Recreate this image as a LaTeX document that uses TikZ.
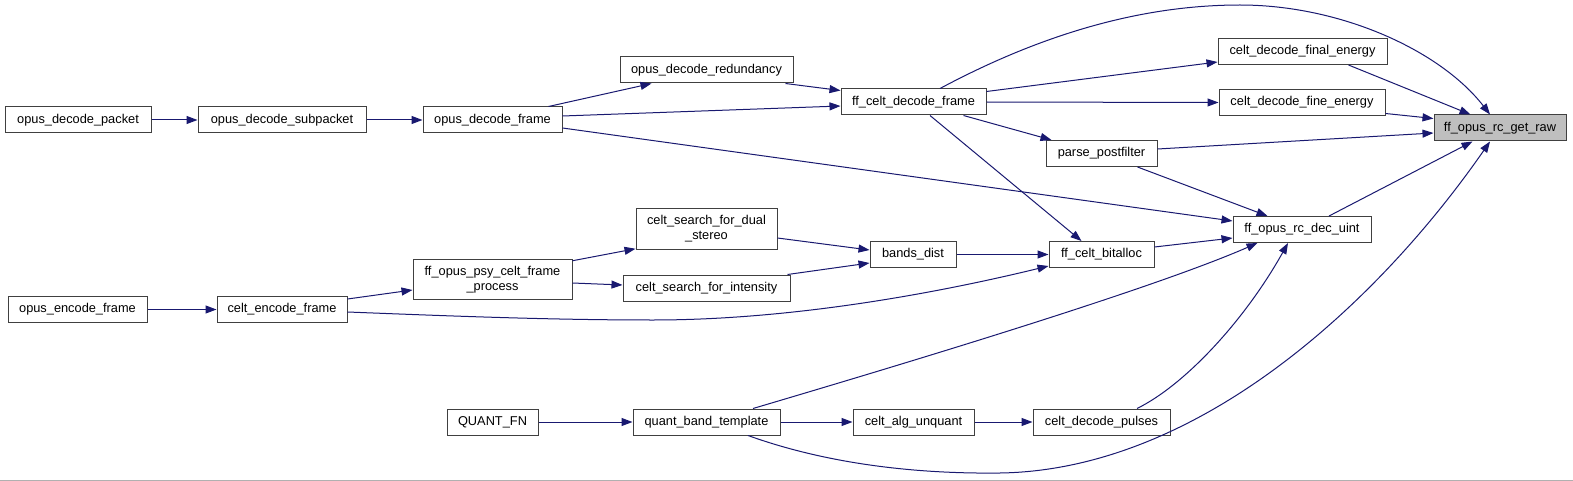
\documentclass[tikz,border=0pt]{standalone}
\usepackage{fontspec}
\setmainfont{Liberation Sans}
\usetikzlibrary{arrows.meta,calc}
\definecolor{edgec}{HTML}{191970}
\definecolor{bord}{HTML}{404040}
\definecolor{hil}{HTML}{BFBFBF}
\definecolor{frame}{HTML}{B0B0B0}
\tikzset{
  fn/.style={draw=bord, line width=0.75pt, fill=white, inner sep=0pt, align=center,
    font=\fontsize{9.6pt}{11.25pt}\selectfont, minimum height=26*0.75pt},
  fn2/.style={fn, minimum height=40.5*0.75pt},
  call/.style={draw=edgec, line width=0.75pt, -{Triangle[length=8.25pt,width=6pt]}}
}
\begin{document}
\begin{tikzpicture}[x=0.75pt,y=-0.75pt]
\useasboundingbox (0,0) rectangle (1573,481);
\fill[white] (0,0) rectangle (1573,481);
\fill[frame] (0,479.5) rectangle (1573,481);

% nodes
\node[fn, minimum width=146*0.75pt] (pkt) at (78,120) {opus\_decode\_packet};
\node[fn, minimum width=168*0.75pt] (sub) at (282,120) {opus\_decode\_subpacket};
\node[fn, minimum width=139*0.75pt] (dfr) at (492.5,120) {opus\_decode\_frame};
\node[fn, minimum width=173*0.75pt] (red) at (706.5,70) {opus\_decode\_redundancy};
\node[fn, minimum width=145*0.75pt] (cdf) at (913.5,102) {ff\_celt\_decode\_frame};
\node[fn, minimum width=169*0.75pt] (fin) at (1302.5,51.5) {celt\_decode\_final\_energy};
\node[fn, minimum width=166*0.75pt] (fine) at (1302,102.5) {celt\_decode\_fine\_energy};
\node[fn, minimum width=132*0.75pt, fill=hil] (raw) at (1500,128) {ff\_opus\_rc\_get\_raw};
\node[fn, minimum width=111*0.75pt] (pf) at (1101.5,153.5) {parse\_postfilter};
\node[fn, minimum width=138*0.75pt] (uint) at (1302,229.5) {ff\_opus\_rc\_dec\_uint};
\node[fn, minimum width=105*0.75pt] (ba) at (1101.5,254.5) {ff\_celt\_bitalloc};
\node[fn, minimum width=86*0.75pt] (bd) at (913,254.5) {bands\_dist};
\node[fn2, minimum width=141*0.75pt] (ds) at (706.5,229) {celt\_search\_for\_dual\\\_stereo};
\node[fn, minimum width=167*0.75pt] (int) at (706.5,288) {celt\_search\_for\_intensity};
\node[fn2, minimum width=159*0.75pt] (psy) at (492.5,279.5) {ff\_opus\_psy\_celt\_frame\\\_process};
\node[fn, minimum width=130*0.75pt] (cef) at (282,309.5) {celt\_encode\_frame};
\node[fn, minimum width=139*0.75pt] (oef) at (77.5,309.5) {opus\_encode\_frame};
\node[fn, minimum width=91*0.75pt] (qfn) at (492.5,422) {QUANT\_FN};
\node[fn, minimum width=147*0.75pt] (qbt) at (706.5,422) {quant\_band\_template};
\node[fn, minimum width=121*0.75pt] (alg) at (913.5,422) {celt\_alg\_unquant};
\node[fn, minimum width=137*0.75pt] (pul) at (1101.5,422) {celt\_decode\_pulses};

% edges
\draw[call] (pkt.east) -- (sub.west);
\draw[call] (sub.east) -- (dfr.west);
\draw[call] ($(dfr.north east)+(-14,0)$) -- ($(red.south west)+(32,0)$);
\draw[call] ($(dfr.east)+(0,-4)$) -- ($(cdf.west)+(0,4)$);
\draw[call] ($(red.south east)+(-8,0)$) -- ($(cdf.north west)+(0,2)$);
\draw[call] ($(dfr.east)+(0,8)$) -- ($(uint.west)+(0,-8.5)$);
\draw[call] ($(cdf.north east)+(0,3)$) -- ($(fin.west)+(0,10.5)$);
\draw[call] (cdf.east) -- (fine.west);
\draw[call] ($(cdf.south east)+(-23,0)$) -- ($(pf.north west)+(6,0)$);
\draw[call] ($(cdf.south)+(16.5,0)$) -- ($(ba.north west)+(33,0)$);
\draw[call] ($(cdf.north)+(26.5,0)$) .. controls (1040,35) and (1140,5) .. (1240,5)
  .. controls (1340,5) and (1440,50) .. ($(raw.north)+(-10,0)$);
\draw[call] ($(fin.south east)+(-39,0)$) -- ($(raw.north west)+(37,0)$);
\draw[call] ($(fine.south east)+(0,-2.5)$) -- ($(raw.north west)+(0,4)$);
\draw[call] ($(pf.east)+(0,-4.5)$) -- ($(raw.west)+(0,5)$);
\draw[call] ($(pf.south east)+(-20,0)$) -- ($(uint.north west)+(35,0)$);
\draw[call] ($(uint.north)+(27,0)$) -- ($(raw.south west)+(39,0)$);
\draw[call] ($(ba.east)+(0,-7.5)$) -- ($(uint.west)+(0,8.5)$);
\draw[call] (bd.east) -- (ba.west);
\draw[call] ($(ds.east)+(0,9)$) -- ($(bd.west)+(0,-4.5)$);
\draw[call] ($(int.north east)+(-3,0)$) -- ($(bd.west)+(0,8.5)$);
\draw[call] ($(psy.north east)+(0,2)$) -- ($(ds.south west)+(0,-1)$);
\draw[call] ($(psy.east)+(0,3.5)$) -- ($(int.west)+(0,-3)$);
\draw[call] ($(cef.north east)+(0,3)$) -- ($(psy.west)+(0,10.5)$);
\draw[call] (oef.east) -- (cef.west);
\draw[call] ($(cef.east)+(0,2.5)$) .. controls (450,316) and (550,320) .. (653,320)
  .. controls (800,320) and (950,290) .. ($(ba.south west)+(0,-2)$);
\draw[call] (qfn.east) -- (qbt.west);
\draw[call] (qbt.east) -- (alg.west);
\draw[call] (alg.east) -- (pul.west);
\draw[call] ($(qbt.north)+(46.5,0)$) .. controls (900,365) and (1150,290) .. ($(uint.south west)+(25,0)$);
\draw[call] ($(pul.north)+(35.5,0)$) .. controls (1185,385) and (1245,320) .. ($(uint.south)+(-14,0)$);
\draw[call] ($(qbt.south)+(41.5,0)$) .. controls (830,465) and (920,474) .. (1000,473)
  .. controls (1200,470) and (1380,300) .. ($(raw.south)+(-10,0)$);
\end{tikzpicture}
\end{document}
